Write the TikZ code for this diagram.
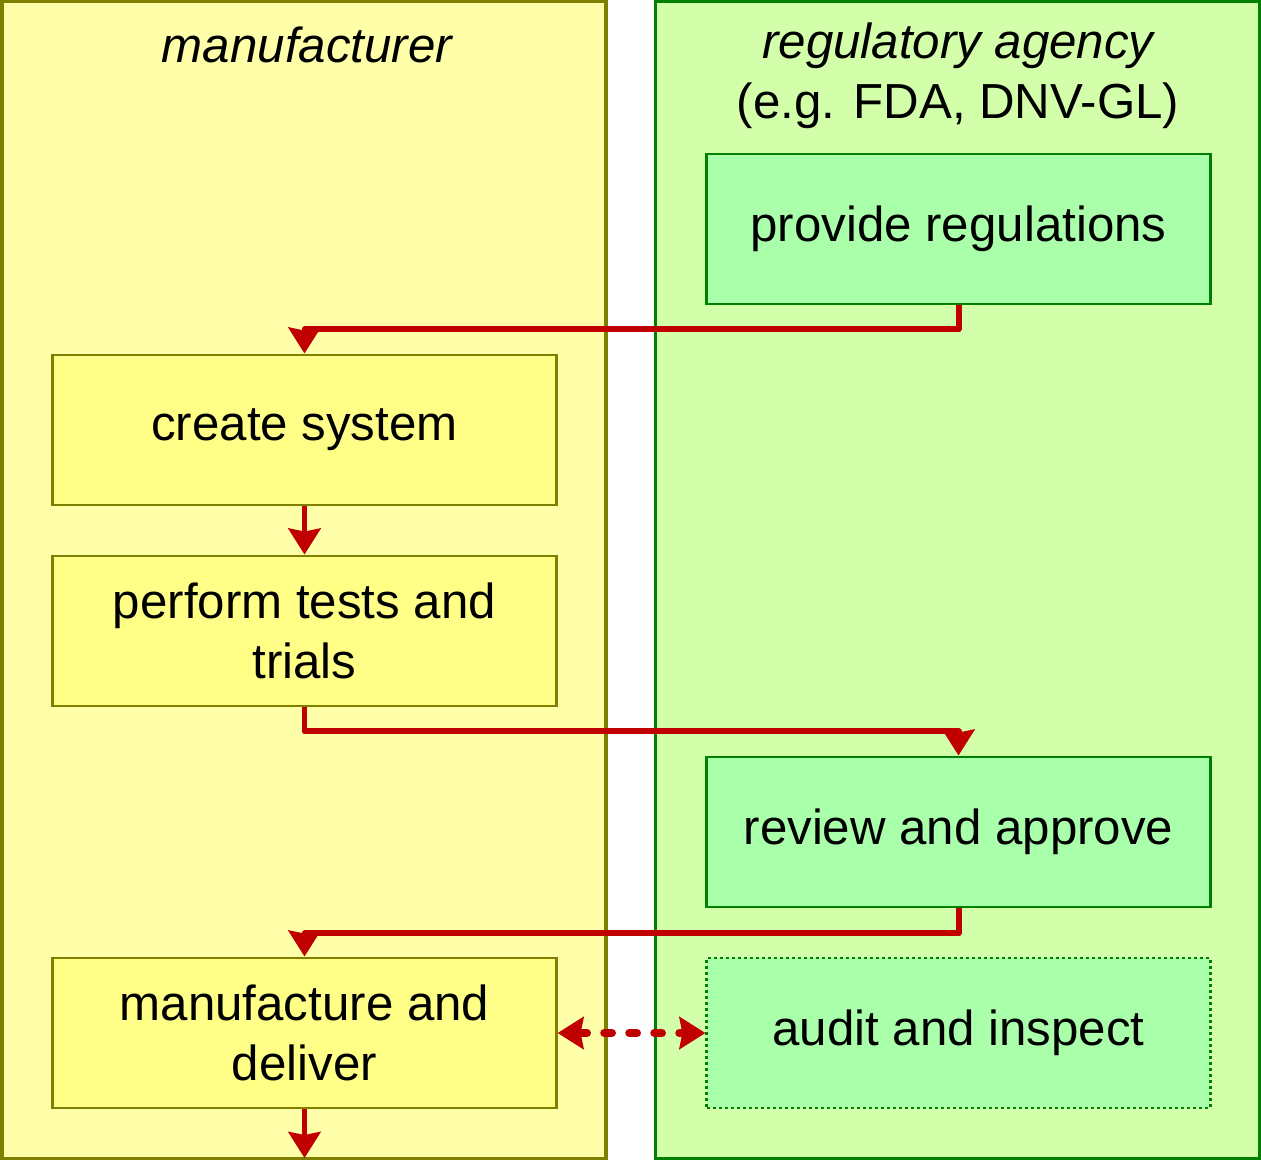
\documentclass[tikz,border=0pt]{standalone}
\usepackage{fontspec}
\setmainfont{Liberation Sans}
\usetikzlibrary{arrows.meta}
\definecolor{laneY}{HTML}{FFFFAA}
\definecolor{laneG}{HTML}{D4FFAA}
\definecolor{boxY}{HTML}{FFFF88}
\definecolor{boxG}{HTML}{AAFFAA}
\definecolor{olive}{HTML}{808000}
\definecolor{dgreen}{HTML}{008000}
\definecolor{ared}{HTML}{C00000}
\tikzset{
  lane/.style={draw, line width=1pt, minimum width=6.04cm, minimum height=11.56cm, inner sep=0pt},
  ybox/.style={draw=olive, fill=boxY, line width=0.8pt, minimum width=5.03cm, minimum height=1.5cm, align=center, inner sep=0pt},
  gbox/.style={draw=dgreen, fill=boxG, line width=0.8pt, minimum width=5.03cm, minimum height=1.5cm, align=center, inner sep=0pt},
  flow/.style={draw=ared, line width=1.7pt, line join=round, -{Stealth[length=0.26cm, width=0.32cm, inset=0.03cm]}},
  txt/.style={font=\fontsize{14pt}{17pt}\selectfont},
}
\begin{document}
\begin{tikzpicture}[x=0.01cm, y=-0.01cm, every node/.style={txt}]
\useasboundingbox (0,0) rectangle (1261,1160);
\node[lane, draw=olive, fill=laneY] (lm) at (304,580) {};
\node[lane, draw=dgreen, fill=laneG] (lr) at (957.5,580) {};
\node[align=center] (tm) at (307,45) {\itshape manufacturer};
\node[align=center, anchor=center] (tr) at (958,76) {\itshape regulatory agency\\(e.g. FDA, DNV-GL)};
\node[gbox] (prov) at (958.5,229) {provide regulations};
\node[ybox] (create) at (304.5,430) {create system};
\node[ybox] (perf) at (304.5,631) {perform tests and\\trials};
\node[gbox] (rev) at (958.5,832) {review and approve};
\node[ybox] (manu) at (304.5,1033) {manufacture and\\deliver};
\node[gbox, draw=dgreen, dash pattern=on 0.03cm off 0.03cm] (aud) at (958.5,1033) {audit and inspect};
\coordinate (out) at (304.5,1158);
\draw[flow] (prov.south) -- ++(0,24) -| (create.north);
\draw[flow] (create.south) -- (perf.north);
\draw[flow] (perf.south) -- ++(0,24) -| (rev.north);
\draw[flow] (rev.south) -- ++(0,25) -| (manu.north);
\draw[flow] (manu.south) -- (out);
\draw[draw=ared, line width=2.2pt, line cap=round, dash pattern=on 0.08cm off 0.17cm,
  {Stealth[length=0.26cm, width=0.32cm, inset=0.03cm]}-{Stealth[length=0.26cm, width=0.32cm, inset=0.03cm]}] (manu.east) -- (aud.west);
\end{tikzpicture}
\end{document}
